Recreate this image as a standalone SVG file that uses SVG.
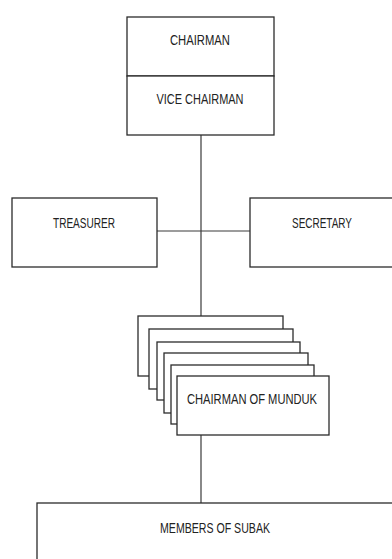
<svg xmlns="http://www.w3.org/2000/svg" width="392" height="559" viewBox="0 0 392 559">
<style>
.b{fill:#fff;stroke:#2b2b2b;stroke-width:1.3}
.l{fill:none;stroke:#3a3a3a;stroke-width:1.2}
.t{font-family:"Liberation Sans",Arial,sans-serif;font-size:15px;fill:#222;text-anchor:middle}
</style>
<rect width="392" height="559" fill="#fff"/>
<g id="connectors">
<line class="l" x1="201" y1="135" x2="201" y2="316"/>
<line class="l" x1="157" y1="231" x2="250" y2="231"/>
<line class="l" x1="201" y1="435" x2="201" y2="503"/>
</g>
<g id="chairman">
<rect class="b" x="127" y="17" width="147" height="59"/>
<text class="t" x="200" y="45" textLength="60" lengthAdjust="spacingAndGlyphs">CHAIRMAN</text>
</g>
<g id="vice-chairman">
<rect class="b" x="127" y="76" width="147" height="59"/>
<text class="t" x="200" y="104" textLength="87" lengthAdjust="spacingAndGlyphs">VICE CHAIRMAN</text>
</g>
<g id="treasurer">
<rect class="b" x="12" y="198" width="145" height="69"/>
<text class="t" x="84" y="228" textLength="62" lengthAdjust="spacingAndGlyphs">TREASURER</text>
</g>
<g id="secretary">
<rect class="b" x="250" y="198" width="145" height="69"/>
<text class="t" x="322" y="228" textLength="60" lengthAdjust="spacingAndGlyphs">SECRETARY</text>
</g>
<g id="chairman-of-munduk">
<rect class="b" x="138" y="316" width="145" height="60"/>
<rect class="b" x="149" y="329" width="144" height="60"/>
<rect class="b" x="157" y="342" width="143" height="58"/>
<rect class="b" x="164" y="353" width="144" height="60"/>
<rect class="b" x="171" y="365" width="143" height="59"/>
<rect class="b" x="177" y="376" width="152" height="59"/>
<text class="t" x="252" y="404" textLength="130" lengthAdjust="spacingAndGlyphs">CHAIRMAN OF MUNDUK</text>
</g>
<g id="members-of-subak">
<rect class="b" x="37" y="503" width="360" height="70"/>
<text class="t" x="215" y="533" textLength="110" lengthAdjust="spacingAndGlyphs">MEMBERS OF SUBAK</text>
</g>
</svg>
